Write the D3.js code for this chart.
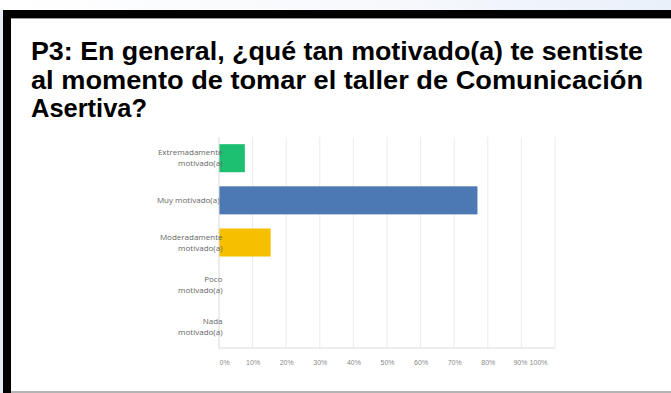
<!DOCTYPE html>
<html>
<head>
<meta charset="utf-8">
<script src="https://cdn.jsdelivr.net/npm/d3@7"></script>
<style>
  html, body { margin: 0; padding: 0; background: #fff; }
  svg { display: block; }
</style>
</head>
<body>
<svg id="chart" width="671" height="393"></svg>
<script>
// Survey question and answer data
const titleLines = [
  "P3: En general, ¿qué tan motivado(a) te sentiste",
  "al momento de tomar el taller de Comunicación",
  "Asertiva?"
];
const categories = [
  ["Extremadamente", "motivado(a)"],
  ["Muy motivado(a)"],
  ["Moderadamente", "motivado(a)"],
  ["Poco", "motivado(a)"],
  ["Nada", "motivado(a)"]
];
const values = [7.69, 76.92, 15.38, 0, 0];
const barColors = ["#1dbf70", "#4c78b3", "#f6bf00", "#8f8f8f", "#8f8f8f"];
const tickValues = [0, 10, 20, 30, 40, 50, 60, 70, 80, 90, 100];

const svg = d3.select("#chart");
const W = 671, H = 393;

// Slide backdrop: pale strip on top, black frame, grey base line
const defs = svg.append("defs");
const grad = defs.append("linearGradient").attr("id", "topGlow")
  .attr("x1", "0").attr("x2", "1").attr("y1", "0").attr("y2", "0");
grad.append("stop").attr("offset", "0").attr("stop-color", "#ffffff");
grad.append("stop").attr("offset", "0.6").attr("stop-color", "#f6f8fc");
grad.append("stop").attr("offset", "1").attr("stop-color", "#e9f0fa");
svg.append("rect").attr("x", 0).attr("y", 0).attr("width", W).attr("height", 10)
  .attr("fill", "url(#topGlow)");
svg.append("rect").attr("x", 0).attr("y", 10).attr("width", 3).attr("height", H - 10)
  .attr("fill", "#e6ecf5");
svg.append("rect").attr("x", 3).attr("y", 10).attr("width", W - 3).attr("height", 8)
  .attr("fill", "#000");
svg.append("rect").attr("x", 3).attr("y", 18).attr("width", W - 3).attr("height", 1)
  .attr("fill", "#9a9a9a");
svg.append("rect").attr("x", 3).attr("y", 10).attr("width", 8).attr("height", H - 10)
  .attr("fill", "#000");
svg.append("rect").attr("x", 11).attr("y", 391).attr("width", W - 11).attr("height", 2)
  .attr("fill", "#b4b4b4");

// Title
const title = svg.append("g").attr("font-family", "'Liberation Sans', Arial, sans-serif")
  .attr("font-weight", "bold").attr("font-size", 25).attr("fill", "#000");
const titleWidths = [612, 612, 116];
titleLines.forEach((t, i) => {
  title.append("text").attr("x", 31).attr("y", 60 + i * 28.5)
    .attr("textLength", titleWidths[i]).attr("lengthAdjust", "spacingAndGlyphs")
    .text(t);
});

// Chart area
const plot = { left: 219, right: 555, top: 137, bottom: 348 };
const x = d3.scaleLinear().domain([0, 100]).range([plot.left, plot.right]);
const y = d3.scaleBand().domain(d3.range(categories.length))
  .range([plot.top, plot.bottom]).paddingInner(0.335).paddingOuter(0.17);

// Vertical gridlines
svg.append("g").selectAll("line").data(tickValues.slice(1)).join("line")
  .attr("x1", d => x(d)).attr("x2", d => x(d))
  .attr("y1", plot.top).attr("y2", plot.bottom)
  .attr("stroke", "#ececec").attr("stroke-width", 1);

// Bars
svg.append("g").selectAll("rect").data(values).join("rect")
  .attr("x", x(0)).attr("y", (d, i) => y(i))
  .attr("width", d => x(d) - x(0)).attr("height", y.bandwidth())
  .attr("fill", (d, i) => barColors[i]);

// Axis frame lines
svg.append("line").attr("x1", plot.left).attr("x2", plot.left)
  .attr("y1", plot.top).attr("y2", plot.bottom + 0.5)
  .attr("stroke", "#d8d8d8");
svg.append("line").attr("x1", plot.left).attr("x2", plot.right)
  .attr("y1", plot.bottom).attr("y2", plot.bottom)
  .attr("stroke", "#dcdcdc");

// Bottom axis labels
const xAxis = d3.axisBottom(x).tickValues(tickValues)
  .tickFormat(d => d + "%").tickSize(0).tickPadding(12);
const gx = svg.append("g").attr("transform", `translate(0,${plot.bottom})`).call(xAxis);
gx.select(".domain").remove();
gx.selectAll("text").attr("font-family", "'Liberation Sans', Arial, sans-serif")
  .attr("font-size", 7).attr("fill", "#8a8a8a");
gx.selectAll(".tick").filter(d => d === 0).select("text")
  .attr("text-anchor", "start");
gx.selectAll(".tick").filter(d => d === 90).select("text")
  .attr("dx", -1.5);
gx.selectAll(".tick").filter(d => d === 100).select("text")
  .attr("text-anchor", "end").attr("dx", -8);

// Category labels
const labels = svg.append("g").attr("font-family", "'Open Sans', 'Liberation Sans', sans-serif")
  .attr("font-size", 8).attr("fill", "#666").attr("text-anchor", "end");
categories.forEach((lines, i) => {
  const cy = y(i) + y.bandwidth() / 2;
  const lh = 11;
  lines.forEach((t, j) => {
    labels.append("text")
      .attr("x", lines.length > 1 ? 222.5 : 219.5)
      .attr("y", cy + (j - (lines.length - 1) / 2) * lh)
      .attr("dy", "0.35em").text(t);
  });
});
</script>
</body>
</html>
